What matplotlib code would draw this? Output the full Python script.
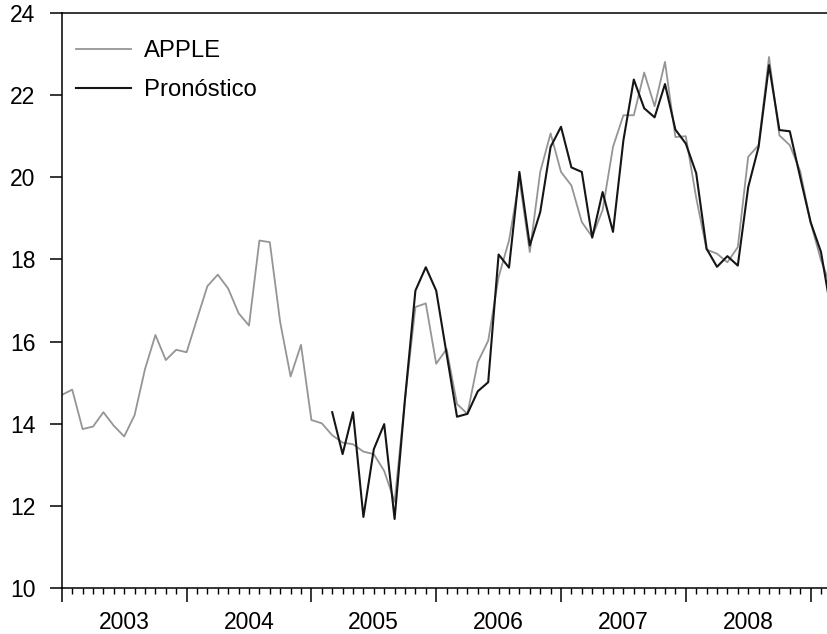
import matplotlib.pyplot as plt
import numpy as np

plt.rcParams['font.family'] = ['Liberation Sans', 'DejaVu Sans']

# Serie mensual real (desde ene-2003) y pronóstico (desde mar-2005)
apple = [14.70, 14.83, 13.87, 13.93, 14.28, 13.95, 13.69, 14.21, 15.33, 16.16, 15.55, 15.80,
         15.74, 16.55, 17.35, 17.63, 17.29, 16.69, 16.39, 18.46, 18.42, 16.47, 15.15, 15.92,
         14.09, 14.01, 13.72, 13.54, 13.50, 13.32, 13.26, 12.85, 12.10, 14.60, 16.84, 16.93,
         15.46, 15.82, 14.48, 14.24, 15.50, 16.02, 17.57, 18.46, 19.95, 18.18, 20.13, 21.07,
         20.13, 19.80, 18.91, 18.55, 19.20, 20.74, 21.51, 21.51, 22.55, 21.73, 22.81, 20.98,
         21.00, 19.50, 18.24, 18.14, 17.93, 18.30, 20.50, 20.78, 22.93, 21.02, 20.78, 20.15,
         18.90, 17.98, 17.30]
pronostico = [14.28, 13.26, 14.28, 11.73, 13.38, 13.99, 11.68, 14.60, 17.24, 17.81,
              17.24, 15.70, 14.17, 14.24, 14.79, 15.01, 18.12, 17.80, 20.13, 18.34, 19.15, 20.74,
              21.23, 20.24, 20.13, 18.53, 19.64, 18.67, 20.90, 22.38, 21.68, 21.46, 22.27, 21.16,
              20.82, 20.10, 18.26, 17.82, 18.08, 17.85, 19.76, 20.74, 22.73, 21.15, 21.12, 20.00,
              18.91, 18.18, 16.70]
inicio_pronostico = 26
years = ['2003', '2004', '2005', '2006', '2007', '2008']

x_apple = np.arange(len(apple))
x_pron = np.arange(inicio_pronostico, inicio_pronostico + len(pronostico))

fig = plt.figure(figsize=(8.28, 6.34), dpi=100)
ax = fig.add_axes([61.8 / 828, 46 / 634, 766.2 / 828, 575 / 634])

ax.plot(x_apple, apple, color='#959595', lw=1.3, label='APPLE')
ax.plot(x_pron, pronostico, color='#151515', lw=1.5, label='Pronóstico')

ax.set_xlim(0, 766.2 / 10.4)
ax.set_ylim(10, 24)
ax.set_yticks(np.arange(10, 25, 2))

# ticks de años (largos) y meses (cortos)
ax.set_xticks(np.arange(0, 74, 12))
ax.set_xticklabels([])
ax.set_xticks(np.arange(0, 74), minor=True)
ax.tick_params(axis='x', which='major', length=10, width=1.1, direction='out')
ax.tick_params(axis='x', which='minor', length=4.5, width=1.0, direction='out')
ax.tick_params(axis='y', length=8.6, width=1.1, pad=10.5, labelsize=16.5)

sec = ax.secondary_xaxis('bottom')
sec.set_xticks(np.arange(6, 72, 12), labels=years)
sec.tick_params(length=0, pad=16.5, labelsize=16.5)
sec.spines['bottom'].set_visible(False)

ax.spines['right'].set_visible(False)
for s in ['left', 'bottom', 'top']:
    ax.spines[s].set_linewidth(1.1)

ax.legend(loc='upper left', bbox_to_anchor=(0.0185, 0.953), frameon=False,
          fontsize=17.2, handlelength=2.3, handletextpad=0.55, labelspacing=0.72,
          borderaxespad=0, borderpad=0)

plt.savefig('out.png', dpi=100)
